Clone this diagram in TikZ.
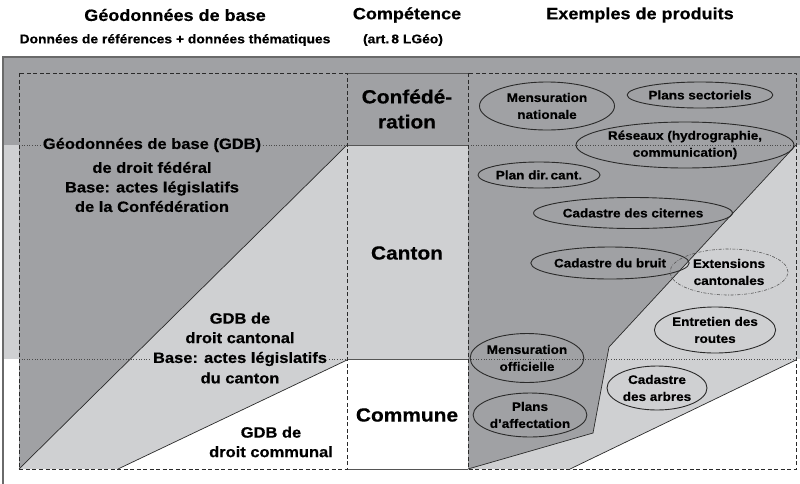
\documentclass[tikz,border=0pt]{standalone}
\usepackage{fontspec}
\setmainfont{Liberation Sans}[FakeStretch=1.1, BoldFeatures={FakeBold=0.5}]
\usetikzlibrary{shapes.geometric}
\definecolor{dkg}{HTML}{A0A1A4}
\definecolor{ltg}{HTML}{CFD0D2}
\definecolor{ln}{HTML}{2A2A2A}
\begin{document}
\begin{tikzpicture}[x=1pt,y=-1pt,
 hdr/.style={font=\fontsize{16.4}{19}\selectfont\bfseries, inner sep=0pt},
 subhdr/.style={font=\fontsize{12.6}{15}\selectfont\bfseries, inner sep=0pt},
 body/.style={font=\fontsize{15}{19.5}\selectfont\bfseries, align=center, inner sep=2pt},
 lvl/.style={font=\fontsize{19}{25}\selectfont\bfseries, align=center, inner sep=0pt},
 prod/.style={ellipse, draw=ln, line width=0.9pt, inner sep=0pt, font=\fontsize{12.3}{17}\selectfont\bfseries, align=center},
 dashbox/.style={draw=ln, line width=1pt, dash pattern=on 4pt off 2.5pt},
 dotl/.style={draw=ln!85, line width=1pt, dash pattern=on 1pt off 1.6pt},
 edgel/.style={draw=ln, line width=0.7pt},
 bandl/.style={draw=ln!80, line width=1pt}]
\useasboundingbox (0,0) rectangle (800,483);
\clip (0,0) rectangle (800,483);
% bands
\fill[dkg] (3,57) rectangle (800,145);
\fill[ltg] (3,145) rectangle (800,359);
\fill[white] (3,359) rectangle (800,483);
% left fills
\fill[ltg] (19,469) -- (347,145) -- (347,360) -- (118,469) -- cycle;
\fill[dkg] (19,145) -- (347,145) -- (19,469) -- cycle;
% right fills
\fill[ltg] (796,145) -- (796,360) -- (570,469) -- (468,469) -- (593,433) -- (609,347) -- cycle;
\fill[dkg] (468,73) -- (796,73) -- (796,145) -- (609,347) -- (593,433) -- (468,469) -- cycle;
% edges
\draw[edgel] (347,145) -- (19,469);
\draw[edgel] (347,360) -- (118,469);
\draw[edgel] (796,145) -- (609,347) -- (593,433) -- (468,469);
\draw[edgel] (796,360) -- (570,469);
% outer frame
\draw[ln!70, line width=1.2pt] (3,490) -- (3,57) -- (810,57);
% middle column
\draw[bandl] (347,73) -- (468,73);
\draw[bandl] (347,145) -- (468,145);
\draw[bandl] (347,359) -- (468,359);
\draw[bandl] (347,469) -- (468,469);
% headers
\node[hdr] (h1) at (175,15) {Géodonnées de base};
\node[subhdr] (h1s) at (175,40) {Données de références + données thématiques};
\node[hdr] (h2) at (407,15) {Compétence};
\node[subhdr] (h2s) at (403,40) {(art.\,8 LGéo)};
\node[hdr] (h3) at (640,15) {Exemples de produits};
% left texts
\node[body] (fed1) at (152,145) {Géodonnées de base (GDB)};
\node[body] (fed2) at (152,187) {de droit fédéral\\Base: actes législatifs\\de la Confédération};
\node[body] (can1) at (240,328) {GDB de\\droit cantonal};
\node[body] (can2) at (240,359) {Base: actes législatifs};
\node[body] (can3) at (240,378) {du canton};
\node[body] (com1) at (271,442) {GDB de\\droit communal};
% level labels
\node[lvl] (lc) at (407,109) {Confédé-\\ration};
\node[lvl] (lk) at (407,253) {Canton};
\node[lvl] (lm) at (407,415) {Commune};
% dotted lines
\coordinate (l1a) at (19,145); \coordinate (l1b) at (347,145);
\coordinate (l2a) at (19,359); \coordinate (l2b) at (347,359);
\coordinate (r1a) at (468,145); \coordinate (r1b) at (796,145);
\coordinate (r2a) at (468,359); \coordinate (r2b) at (796,359);
\draw[dotl] (l1a) -- (fed1.west);
\draw[dotl] (fed1.east) -- (l1b);
\draw[dotl] (l2a) -- (can2.west);
\draw[dotl] (can2.east) -- (l2b);
\draw[dotl] (r1a) -- (r1b);
\draw[dotl] (r2a) -- (r2b);
% dashed boxes
\draw[dashbox] (19,73) rectangle (347,469);
\draw[dashbox] (468,73) rectangle (796,469);
% products
\node[prod, minimum width=135pt, minimum height=48pt] (p1) at (547,106) {Mensuration\\nationale};
\node[prod, minimum width=126pt, minimum height=26pt] (p2) at (700,95) {Plans sectoriels};
\node[prod, minimum width=190pt, minimum height=46pt] (p3) at (685,145) {Réseaux (hydrographie,\\communication)};
\node[prod, minimum width=115pt, minimum height=26pt] (p4) at (539,175) {Plan dir.\,cant.};
\node[prod, minimum width=173pt, minimum height=31pt] (p5) at (633,213) {Cadastre des citernes};
\node[prod, minimum width=145pt, minimum height=32pt] (p6) at (610,263) {Cadastre du bruit};
\node[prod, draw=ln!80, line width=0.6pt, dash pattern=on 3pt off 1.5pt on 0.8pt off 1.5pt, minimum width=118pt, minimum height=46pt] (p7) at (729,272) {Extensions\\cantonales};
\node[prod, minimum width=116pt, minimum height=46pt] (p8) at (715,330) {Entretien des\\routes};
\node[prod, minimum width=106pt, minimum height=49pt] (p9) at (527,358) {Mensuration\\officielle};
\node[prod, minimum width=113pt, minimum height=44pt] (p10) at (530,415) {Plans\\d’affectation};
\node[prod, minimum width=100pt, minimum height=44pt] (p11) at (657,388) {Cadastre\\des arbres};
\end{tikzpicture}
\end{document}
